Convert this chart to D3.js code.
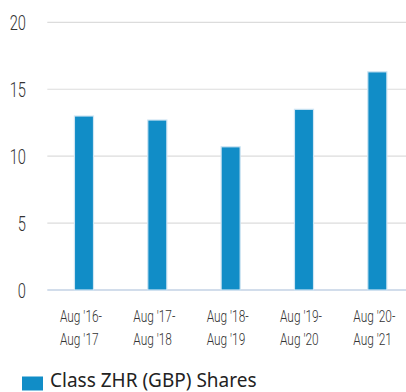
<!DOCTYPE html>
<html>
<head>
<meta charset="utf-8">
<script src="https://cdn.jsdelivr.net/npm/d3@7"></script>
<style>
  html, body { margin: 0; padding: 0; background: #fff; }
  svg { display: block; }
</style>
</head>
<body>
<div id="chart"></div>
<script>
// Annual performance periods and returns (%)
const periods = [
  ["Aug '16-", "Aug '17"],
  ["Aug '17-", "Aug '18"],
  ["Aug '18-", "Aug '19"],
  ["Aug '19-", "Aug '20"],
  ["Aug '20-", "Aug '21"]
];
const returnsZHR = [13.0, 12.7, 10.7, 13.5, 16.3];
const yTicks = [0, 5, 10, 15, 20];
const seriesName = "Class ZHR (GBP) Shares";

const W = 406, H = 392;
const barColor = "#118dc7";
const condensed = 0.7; // horizontal squeeze for the narrow axis lettering

const svg = d3.select("#chart").append("svg")
  .attr("width", W).attr("height", H);

const x = d3.scaleBand()
  .domain(d3.range(periods.length))
  .range([47.3, 414])
  .paddingInner(0.74).paddingOuter(0.37);

const y = d3.scaleLinear().domain([0, 20]).range([290, 22.3]);

// Horizontal gridlines
svg.append("g").selectAll("line")
  .data(yTicks.filter(t => t > 0))
  .join("line")
  .attr("x1", 47.3).attr("x2", W)
  .attr("y1", d => y(d)).attr("y2", d => y(d))
  .attr("stroke", "#dcdcdc").attr("stroke-width", 1.2);

// Baseline
svg.append("line")
  .attr("x1", 47.3).attr("x2", W)
  .attr("y1", y(0)).attr("y2", y(0))
  .attr("stroke", "#c3d2e4").attr("stroke-width", 1.5);

// Y axis labels
svg.append("g").selectAll("text")
  .data(yTicks)
  .join("text")
  .attr("transform", d => `translate(26,${y(d) + 8}) scale(${condensed},1)`)
  .attr("text-anchor", "end")
  .attr("font-family", "Roboto, sans-serif")
  .attr("font-weight", 300)
  .attr("font-size", 21)
  .attr("fill", "#333")
  .text(d => d);

// Bars
svg.append("g").selectAll("rect")
  .data(returnsZHR)
  .join("rect")
  .attr("x", (d, i) => x(i))
  .attr("width", x.bandwidth())
  .attr("y", d => y(d))
  .attr("height", d => y(0) - y(d))
  .attr("fill", barColor)
  .attr("stroke", "#cfe5f3")
  .attr("stroke-width", 1.2);

// X axis labels (two lines each)
svg.append("g").selectAll("text")
  .data(periods)
  .join("text")
  .attr("transform", (d, i) => `translate(${x(i) + x.bandwidth() / 2 - 24},0) scale(${condensed},1)`)
  .attr("font-family", "Roboto, sans-serif")
  .attr("font-weight", 300)
  .attr("font-size", 17)
  .attr("fill", "#333")
  .selectAll("tspan")
  .data(d => d)
  .join("tspan")
  .attr("x", 0)
  .attr("y", (d, j) => 322 + j * 23.5)
  .text(d => d);

// Legend
svg.append("rect")
  .attr("x", 22).attr("y", 376.5)
  .attr("width", 21).attr("height", 14)
  .attr("fill", barColor);
svg.append("text")
  .attr("x", 50).attr("y", 387)
  .attr("font-family", "'Noto Sans', sans-serif")
  .attr("font-size", 19)
  .attr("fill", "#222")
  .text(seriesName);
</script>
</body>
</html>
